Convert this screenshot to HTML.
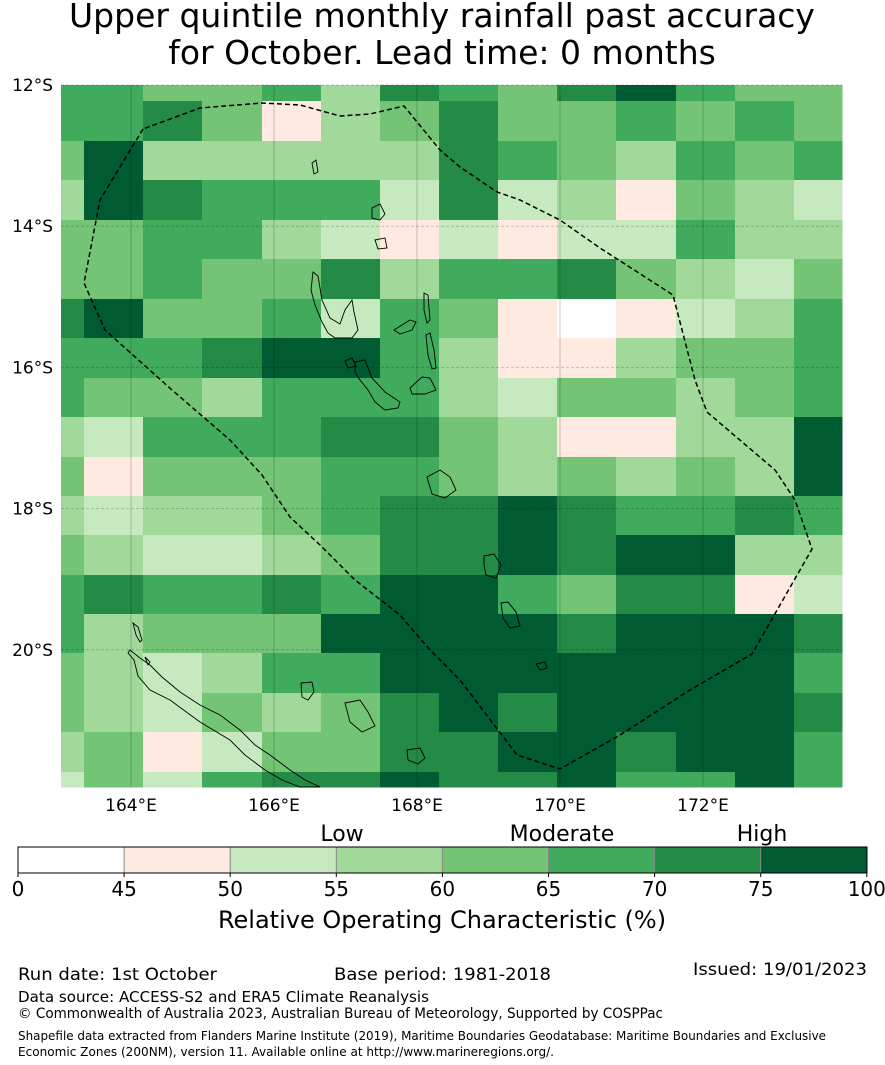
<!DOCTYPE html>
<html><head><meta charset="utf-8"><style>
html,body{margin:0;padding:0;background:#fff;}
svg{display:block;font-family:"DejaVu Sans","Liberation Sans",sans-serif;}
</style></head><body>
<svg id="chart" width="885" height="1065" viewBox="0 0 885 1065">
<text x="442" y="27" font-size="33" text-anchor="middle">Upper quintile monthly rainfall past accuracy</text>
<text x="442" y="64" font-size="33" text-anchor="middle">for October. Lead time: 0 months</text>
<g id="cells"></g>
<g id="grat"></g>
<g id="land" fill="none" stroke="#000" stroke-width="0.9">
<path d="M313,272 L318,276 L322,300 L330,318 L340,324 L345,310 L352,300 L354,312 L358,330 L352,338 L335,338 L328,333 L322,322 L315,305 L311,290 Z"/>
<path d="M355,362 L365,360 L372,378 L385,392 L400,402 L398,408 L385,410 L375,402 L368,390 L360,380 L355,372 Z"/>
<path d="M345,361 L352,358 L356,366 L348,368 Z"/>
<path d="M394,330 L410,320 L416,322 L412,330 L400,334 Z"/>
<path d="M424,293 L428,295 L430,320 L427,323 L424,310 Z"/>
<path d="M426,335 L430,333 L434,350 L436,368 L432,369 L428,355 Z"/>
<path d="M410,388 L422,377 L430,378 L436,390 L425,394 L412,394 Z"/>
<path d="M427,477 L440,470 L450,477 L456,490 L445,498 L432,494 Z"/>
<path d="M484,556 L494,554 L501,565 L496,578 L486,575 L484,565 Z"/>
<path d="M501,603 L508,602 L516,612 L520,626 L510,628 L503,618 Z"/>
<path d="M536,664 L545,662 L547,668 L540,670 Z"/>
<path d="M372,208 L380,204 L385,214 L380,220 L372,218 Z"/>
<path d="M375,240 L385,238 L387,248 L378,249 Z"/>
<path d="M312,163 L316,160 L318,172 L314,174 Z"/>
<path d="M133,623 L138,627 L142,640 L140,642 L136,635 Z"/>
<path d="M128,653 L134,660 L138,676 L150,690 L170,700 L200,722 L230,740 L245,755 L265,770 L282,780 L300,787 L320,787 L305,780 L290,770 L270,755 L255,745 L240,730 L220,715 L200,705 L180,692 L162,677 L150,665 L140,658 L130,650 Z"/>
<path d="M145,657 L150,662 L148,665 Z"/>
<path d="M345,703 L360,700 L368,712 L375,726 L362,732 L350,722 Z"/>
<path d="M301,683 L312,682 L314,692 L308,700 L302,697 Z"/>
<path d="M407,750 L420,748 L425,758 L418,764 L408,760 Z"/>
</g>
<polyline id="eez" fill="none" stroke="#000" stroke-width="1.5" stroke-dasharray="5,3"
points="143,129 100,200 84,283 105,330 172,390 230,440 262,475 290,517 320,545 355,580 400,615 430,650 460,680 517,755 560,769 620,735 690,690 752,654 812,549 795,500 775,470 707,412 695,380 673,295 600,248 560,220 520,200 497,192 460,167 440,150 404,106 370,114 340,116 300,105 262,103 200,108 143,129"/>
<g id="axes" font-size="17"></g>
<g id="cbar"></g>
<text x="342" y="841" font-size="22" text-anchor="middle">Low</text>
<text x="562" y="841" font-size="22" text-anchor="middle">Moderate</text>
<text x="762" y="841" font-size="22" text-anchor="middle">High</text>
<text x="442" y="928" font-size="24" text-anchor="middle">Relative Operating Characteristic (%)</text>
<text x="18" y="980" font-size="17" textLength="199" lengthAdjust="spacingAndGlyphs">Run date: 1st October</text>
<text x="334" y="980" font-size="17" textLength="217" lengthAdjust="spacingAndGlyphs">Base period: 1981-2018</text>
<text x="693" y="975" font-size="17" textLength="174" lengthAdjust="spacingAndGlyphs">Issued: 19/01/2023</text>
<text x="18" y="1002" font-size="15" textLength="411" lengthAdjust="spacingAndGlyphs">Data source: ACCESS-S2 and ERA5 Climate Reanalysis</text>
<text x="18" y="1018" font-size="14" textLength="645" lengthAdjust="spacingAndGlyphs">© Commonwealth of Australia 2023, Australian Bureau of Meteorology, Supported by COSPPac</text>
<text x="18" y="1040" font-size="12.5" textLength="808" lengthAdjust="spacingAndGlyphs">Shapefile data extracted from Flanders Marine Institute (2019), Maritime Boundaries Geodatabase: Maritime Boundaries and Exclusive</text>
<text x="18" y="1056" font-size="12.5" textLength="536" lengthAdjust="spacingAndGlyphs">Economic Zones (200NM), version 11. Available online at http://www.marineregions.org/.</text>
</svg>
<script>
// ROC category (0..7) per grid cell, rows from north (top) to south, columns west to east
const levelRows = [
 [5,5,4,4,5,3,6,5,4,6,7,5,4,4],
 [5,5,6,4,1,3,4,6,4,4,5,4,5,4],
 [4,7,3,3,3,3,3,6,5,4,3,5,4,5],
 [3,7,6,5,5,5,2,6,2,3,1,4,3,2],
 [4,4,5,5,3,2,1,2,1,2,2,5,3,3],
 [4,4,5,4,4,6,3,5,5,6,4,3,2,4],
 [6,7,4,4,5,2,5,4,1,0,1,2,3,5],
 [5,5,5,6,7,7,5,3,1,1,3,4,4,5],
 [5,4,4,3,5,5,5,3,2,4,4,3,4,5],
 [3,2,5,5,5,6,6,4,3,1,1,3,3,7],
 [4,1,4,4,4,5,5,4,3,4,3,4,3,7],
 [3,2,3,3,4,5,6,6,7,6,5,5,6,5],
 [4,3,2,2,3,4,6,6,7,6,7,7,3,3],
 [5,6,5,5,6,5,7,7,5,4,6,6,1,2],
 [5,3,4,4,4,7,7,7,7,6,7,7,7,6],
 [4,3,2,3,5,5,7,7,7,7,7,7,7,5],
 [4,3,2,4,3,4,6,7,6,7,7,7,7,6],
 [3,4,1,2,4,4,6,6,7,7,6,7,7,5],
 [2,4,2,5,6,6,7,6,6,7,5,5,7,5]
];
// cell edges in degrees (lon east, lat south)
const lonEdges = [163.0,163.343,164.168,164.993,165.832,166.657,167.483,168.308,169.133,169.958,170.783,171.622,172.448,173.273,174.0];
const latEdges = [12.0,12.227,12.793,13.346,13.912,14.465,15.031,15.584,16.150,16.703,17.269,17.822,18.374,18.941,19.493,20.045,20.612,21.164,21.731,21.95];
const binEdges = [0,45,50,55,60,65,70,75,100];
const binColors = ["#ffffff","#feeae0","#c7e9c0","#a1d99b","#74c476","#41ab5d","#238b45","#005a32"];
const lonTicks = [164,166,168,170,172];
const latTicks = [12,14,16,18,20];

const NS="http://www.w3.org/2000/svg";
const xS = lon => 131 + (lon-164)*71.5;
const yS = lat => 85 + (lat-12)*70.6;
const cbX = v => { const i = binEdges.findIndex((e,k)=>k>0 && v<=e); const k = Math.max(1,i); return 18 + (k-1)*106.1 + (v-binEdges[k-1])/(binEdges[k]-binEdges[k-1])*106.1; };
function mk(tag, attrs, parent){ const e=document.createElementNS(NS,tag); for(const k in attrs) e.setAttribute(k,attrs[k]); parent.appendChild(e); return e; }

const cells=document.getElementById('cells');
levelRows.forEach((row,r)=>{
  row.forEach((lv,c)=>{
    const x0=Math.max(61,xS(lonEdges[c])), x1=Math.min(842,xS(lonEdges[c+1]));
    const y0=Math.max(85,yS(latEdges[r])), y1=Math.min(787,yS(latEdges[r+1]));
    const el=mk('rect',{x:x0,y:y0,width:x1-x0+0.5,height:y1-y0+0.5,fill:binColors[lv]},cells);
    
    
  });
});

const grat=document.getElementById('grat');
lonTicks.forEach(l=>{ const e=mk('line',{x1:xS(l),x2:xS(l),y1:85,y2:787,stroke:'#000','stroke-opacity':0.2,'stroke-width':1},grat);
  
   });
latTicks.forEach(l=>{ const e=mk('line',{x1:61,x2:842,y1:yS(l),y2:yS(l),stroke:'#000','stroke-opacity':0.2,'stroke-width':1,'stroke-dasharray':'3,2'},grat);
  
   });

const axes=document.getElementById('axes');
lonTicks.forEach(l=>{ const t=mk('text',{x:xS(l),y:811,'text-anchor':'middle'},axes); t.textContent=l+'°E';
  
   });
latTicks.forEach(l=>{ const t=mk('text',{x:53,y:yS(l)+6,'text-anchor':'end'},axes); t.textContent=l+'°S';
  
   });

const cbar=document.getElementById('cbar');
binColors.forEach((col,i)=>{ const x0=cbX(binEdges[i]), x1=cbX(binEdges[i+1]);
  const e=mk('rect',{x:x0,y:847,width:x1-x0,height:26,fill:col},cbar);
  
   });
binEdges.forEach((v,i)=>{ const x=cbX(v);
  if(i>0 && i<binEdges.length-1){ const l=mk('line',{x1:x,x2:x,y1:847,y2:873,stroke:'#888','stroke-width':1},cbar);
    
     }
  const tk=mk('line',{x1:x,x2:x,y1:873,y2:877,stroke:'#000','stroke-width':1},cbar);
  
  
  const t=mk('text',{x:x,y:896,'text-anchor':'middle','font-size':20},cbar); t.textContent=v;
  
   });
const fr=mk('rect',{x:18,y:847,width:849,height:26,fill:'none',stroke:'#000','stroke-width':1},cbar);


</script>
</body></html>
